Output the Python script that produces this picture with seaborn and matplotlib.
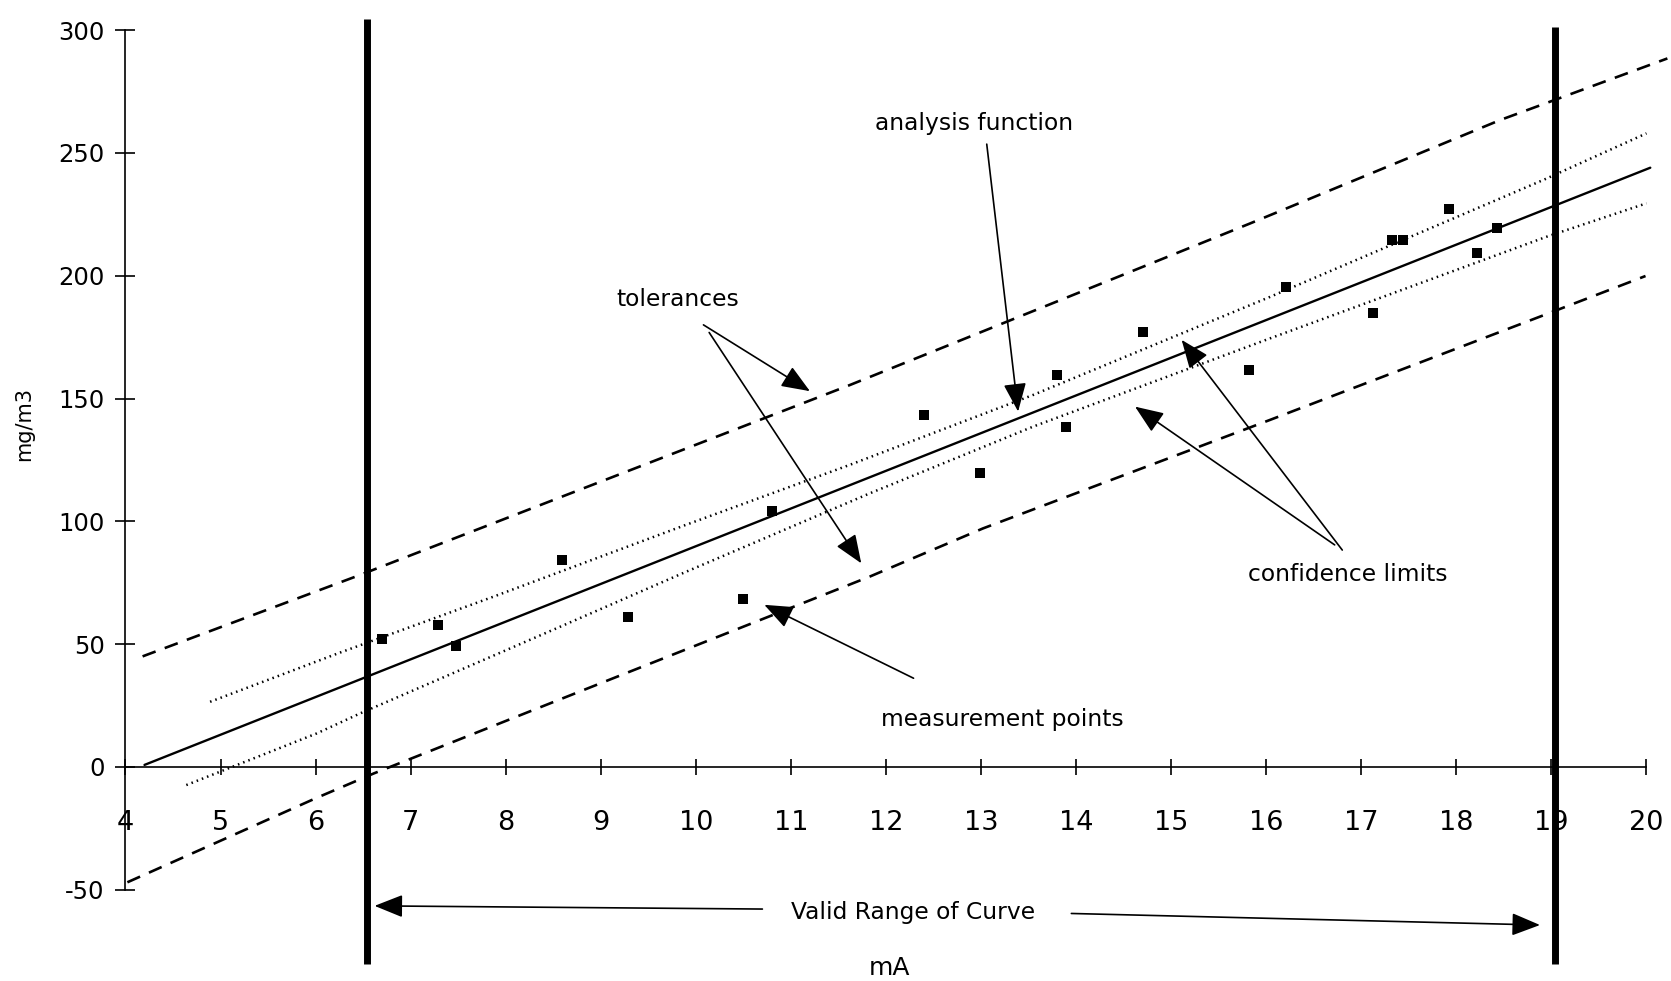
import matplotlib
matplotlib.use("Agg")
import matplotlib.pyplot as plt
import seaborn as sns

# ---------------- data ----------------
meas_mA = [6.70, 7.29, 7.48, 8.59, 9.29, 10.50, 10.80, 12.40, 12.99, 13.80,
           13.89, 14.70, 15.82, 16.21, 17.12, 17.32, 17.44, 17.92, 18.22, 18.43]
meas_conc = [51.9, 57.7, 49.1, 84.2, 61.2, 68.4, 104.4, 143.3, 119.7, 159.6,
             138.4, 176.9, 161.7, 195.6, 185.0, 214.7, 214.7, 227.3, 209.1, 219.3]

analysis_mA = [4.2, 20.04]
analysis_conc = [0.8, 244.0]

conf_upper_mA = [4.89, 6.24, 7.87, 9.87, 11.62, 13.55, 16.04, 18.92, 20.0]
conf_upper_conc = [26.5, 46.3, 69.3, 98.2, 123.0, 151.5, 191.4, 239.1, 258.0]
conf_lower_mA = [4.64, 6.01, 6.47, 8.61, 9.87, 11.83, 13.55, 16.04, 18.95, 20.0]
conf_lower_conc = [-7.4, 13.6, 21.8, 57.7, 79.0, 111.4, 138.6, 174.5, 215.9, 229.5]

tol_upper_mA = [4.18, 6.47, 11.62, 14.36, 15.83, 18.46, 20.22]
tol_upper_conc = [45.0, 78.2, 155.5, 198.3, 221.3, 263.4, 288.5]
tol_lower_mA = [4.02, 6.0, 6.61, 9.17, 11.83, 13.02, 16.04, 18.95, 19.99]
tol_lower_conc = [-47.0, -12.8, -2.7, 36.7, 77.5, 97.1, 141.3, 184.4, 199.9]

valid_range_mA = [6.54, 19.04]
valid_range_top = [304.6, 301.5]
valid_range_bottom = -80.3

x_ticks = list(range(4, 21))
x_tick_labels = [str(v) for v in x_ticks]
y_ticks = [-50, 0, 50, 100, 150, 200, 250, 300]
y_tick_labels = [str(v) for v in y_ticks]

label_texts = ["analysis function", "tolerances", "confidence limits",
               "measurement points", "Valid Range of Curve"]
label_x = [12.93, 9.81, 16.86, 13.22, 12.28]
label_y = [262.0, 190.5, 78.5, 19.1, -59.5]

arrow_tail_x = [10.08, 10.14, 13.06, 16.80, 16.72, 12.29, 10.70, 13.95]
arrow_tail_y = [180.0, 176.9, 253.6, 88.3, 90.4, 36.1, -57.9, -59.7]
arrow_head_x = [11.20, 11.74, 13.39, 15.11, 14.62, 10.72, 6.62, 18.88]
arrow_head_y = [153.0, 82.9, 144.7, 173.9, 146.7, 66.0, -56.6, -64.4]

x_label = "mA"
y_label = "mg/m3"

# ---------------- style ----------------
sns.set_theme(style="white")
plt.rcParams["font.family"] = ["DejaVu Sans"]
plt.rcParams["axes.unicode_minus"] = False
plt.rcParams["lines.scale_dashes"] = False

narrow = ["Liberation Sans Narrow", "DejaVu Sans"]

fig = plt.figure(figsize=(16.71, 9.81), dpi=100)
fig.patch.set_facecolor("white")
ax = fig.add_axes([0, 0, 1, 1])
ax.set_facecolor("white")

# tolerance lines (dashed)
sns.lineplot(x=tol_upper_mA, y=tol_upper_conc, ax=ax, color="black", lw=1.9,
             linestyle=(0, (10, 7)), sort=False, estimator=None)
sns.lineplot(x=tol_lower_mA, y=tol_lower_conc, ax=ax, color="black", lw=1.9,
             linestyle=(0, (10, 7)), sort=False, estimator=None)
# confidence limits (dotted)
sns.lineplot(x=conf_upper_mA, y=conf_upper_conc, ax=ax, color="black", lw=1.8,
             linestyle=(0, (1.1, 2.9)), sort=False, estimator=None)
sns.lineplot(x=conf_lower_mA, y=conf_lower_conc, ax=ax, color="black", lw=1.8,
             linestyle=(0, (1.1, 2.9)), sort=False, estimator=None)
# analysis function (solid)
sns.lineplot(x=analysis_mA, y=analysis_conc, ax=ax, color="black", lw=1.7,
             sort=False, estimator=None)
# measurement points
sns.scatterplot(x=meas_mA, y=meas_conc, ax=ax, marker="s", s=60, color="black",
                linewidth=0, zorder=5)

# valid range bars
ax.vlines(valid_range_mA, valid_range_bottom, valid_range_top, colors="black",
          lw=5, zorder=6)

# annotations
for t, x, y in zip(label_texts, label_x, label_y):
    ax.text(x, y, t, ha="center", va="center", fontsize=16.8, color="black",
            zorder=7)
for tx, ty, hx, hy in zip(arrow_tail_x, arrow_tail_y, arrow_head_x, arrow_head_y):
    ax.annotate("", xy=(hx, hy), xytext=(tx, ty),
                arrowprops=dict(arrowstyle="-|>,head_length=0.8,head_width=0.32",
                                mutation_scale=22, lw=1.2, color="black",
                                shrinkA=0, shrinkB=0), zorder=7)

ax.text(12.04, -82.0, x_label, ha="center", va="center", fontsize=18,
        family=narrow, color="black")
ax.text(2.93, 139.8, y_label, ha="center", va="center", fontsize=15,
        rotation=90, color="black")

# axes
ax.set_xlim(2.680, 20.258)
ax.set_ylim(-87.2, 312.3)
ax.set_xlabel("")
ax.set_ylabel("")
for s in ["top", "right"]:
    ax.spines[s].set_visible(False)
ax.spines["left"].set_position(("data", 4))
ax.spines["left"].set_bounds(-50, 300)
ax.spines["bottom"].set_position(("data", 0))
ax.spines["bottom"].set_bounds(4, 20)
for s in ["left", "bottom"]:
    ax.spines[s].set_color("black")
    ax.spines[s].set_linewidth(1.2)

ax.set_xticks(x_ticks)
ax.set_xticklabels(x_tick_labels, fontsize=19.5, family=narrow)
ax.set_yticks(y_ticks)
ax.set_yticklabels(y_tick_labels, fontsize=17.5)
ax.tick_params(axis="x", bottom=True, direction="inout", length=12, width=1.2,
               pad=25, colors="black")
ax.tick_params(axis="y", left=True, direction="inout", length=14, width=1.2,
               pad=8, colors="black")

fig.savefig("out.png", dpi=100, facecolor="white")
